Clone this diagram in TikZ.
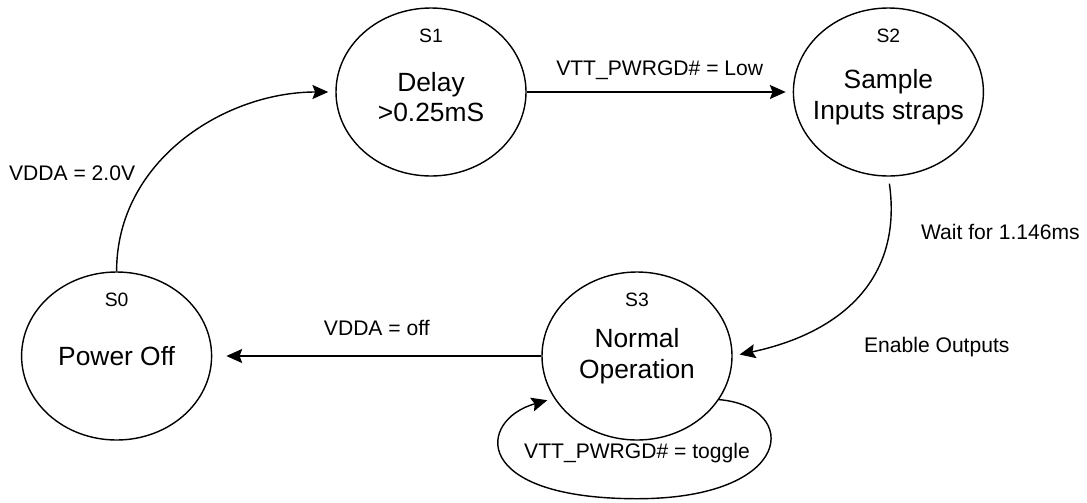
\documentclass[tikz,border=0pt]{standalone}
\usepackage{fontspec}
\setmainfont{Liberation Sans}
\usetikzlibrary{arrows.meta,positioning,calc,shapes.geometric}

\begin{document}
\begin{tikzpicture}[
  font=\fontsize{12}{14}\selectfont,
  >={Stealth[length=9pt,width=8pt,inset=1.5pt]},
  node distance=5mm and 10mm,
  state/.style={draw, ellipse, line width=0.8pt, minimum width=3.8cm, minimum height=3.36cm, inner sep=0pt},
  stateTxt/.style={font=\fontsize{15}{17.5}\selectfont, align=center, inner sep=0pt},
  tag/.style={font=\fontsize{11}{13}\selectfont, inner sep=0pt},
  edgeLbl/.style={font=\fontsize{12}{14}\selectfont, inner sep=1pt},
  arrow/.style={->, line width=0.8pt, shorten >=4pt},
]
\useasboundingbox (0,0) rectangle (21.74,-10.04);

% --- states ---
\node[state] (s1) at (8.62,-1.84) {};
\node[state, right=53.2mm of s1] (s2) {};
\node[state] (s3) at (12.74,-7.12) {};
\node[state, left=65.8mm of s3] (s0) {};

% --- tags and texts inside the states ---
\node[tag, below=4.2mm of s0.north] (t0) {S0};
\node[tag, below=4.2mm of s1.north] (t1) {S1};
\node[tag, below=4.2mm of s2.north] (t2) {S2};
\node[tag, below=4.2mm of s3.north] (t3) {S3};

\node[stateTxt] (x0) at (s0) {Power Off};
\node[stateTxt, yshift=-1mm] (x1) at (s1) {Delay\\>0.25mS};
\node[stateTxt, yshift=-1mm] (x2) at (s2) {Sample\\Inputs straps};
\node[stateTxt] (x3) at (s3) {Normal\\Operation};

% --- transitions ---
\draw[arrow] (s0.north) to[out=90, in=180] (s1.west);
\draw[arrow] (s1) -- node[edgeLbl, above=2mm] (lLow) {VTT\_PWRGD\# = Low} (s2);
\draw[arrow, shorten <=4pt] (s2.south) to[out=-82, in=12, looseness=1.15] (s3.east);
\draw[arrow, shorten >=8pt] (s3) -- node[edgeLbl, above=3.5mm] (lOff) {VDDA = off} (s0);

% self loop on S3
\coordinate (loopBot) at ([yshift=-11.6mm]s3.south);
\draw[arrow] (s3.-28) .. controls +(1.64,-0.14) and +(3.16,0) .. (loopBot)
  .. controls +(-3.34,0) and +(-1.54,-0.44) .. (s3.-153);

% --- free labels ---
\node[edgeLbl, anchor=west] (l20) at (0.14,-3.46) {VDDA = 2.0V};
\node[edgeLbl, anchor=west] (lWait) at (18.38,-4.64) {Wait for 1.146ms};
\node[edgeLbl, anchor=west] (lEn) at (17.24,-6.94) {Enable Outputs};
\node[edgeLbl] (lToggle) at ([yshift=-2.4mm]s3.south) {VTT\_PWRGD\# = toggle};

\end{tikzpicture}
\end{document}
